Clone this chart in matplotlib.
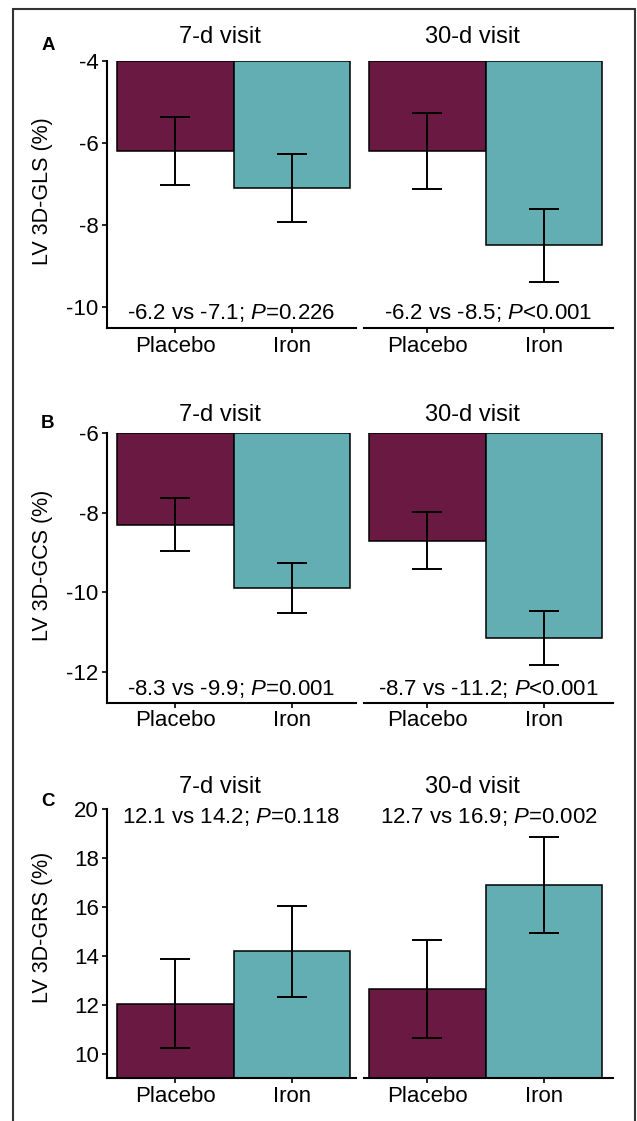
import numpy as np
import matplotlib
matplotlib.use("Agg")
import matplotlib.pyplot as plt
from matplotlib.patches import Rectangle

plt.rcParams['font.family'] = ['Liberation Sans', 'DejaVu Sans']
plt.rcParams['mathtext.fontset'] = 'custom'
plt.rcParams['mathtext.rm'] = 'Liberation Sans'
plt.rcParams['mathtext.it'] = 'Liberation Sans:italic'

# ---- DATOS --------------------------------------------------------
visits = ['7-d visit', '30-d visit']
groups = ['Placebo', 'Iron']
panel_letters = ['A', 'B', 'C']
ylabels = ['LV 3D-GLS (%)', 'LV 3D-GCS (%)', 'LV 3D-GRS (%)']

gls_mean = [[-6.2, -7.1], [-6.2, -8.5]]
gls_err = [[0.83, 0.82], [0.93, 0.90]]
gls_text = ['-6.2 vs -7.1; $P$=0.226', '-6.2 vs -8.5; $P$<0.001']

gcs_mean = [[-8.3, -9.9], [-8.7, -11.15]]
gcs_err = [[0.67, 0.63], [0.71, 0.67]]
gcs_text = ['-8.3 vs -9.9; $P$=0.001', '-8.7 vs -11.2; $P$<0.001']

grs_mean = [[12.05, 14.2], [12.65, 16.9]]
grs_err = [[1.83, 1.86], [1.99, 1.97]]
grs_text = ['12.1 vs 14.2; $P$=0.118', '12.7 vs 16.9; $P$=0.002']

yticks_gls = [-10, -8, -6, -4]
yticks_gcs = [-12, -10, -8, -6]
yticks_grs = [10, 12, 14, 16, 18, 20]

colors = ['#691942', '#63aeb2']

# ---- LAYOUT (pixeles) ---------------------------------------------
W, H = 637, 1121
fig = plt.figure(figsize=(W / 100, H / 100), dpi=100)

panels = [
    # medias, errores, textos, yticks, ylim, base, y texto, top px, bottom px, titulo px, label y px, letra y px
    (gls_mean, gls_err, gls_text, yticks_gls, (-10.52, -4), -4, -10.3, 61, 328.3, 43.3, 191, 46),
    (gcs_mean, gcs_err, gcs_text, yticks_gcs, (-12.78, -6), -6, -12.59, 433.3, 702.7, 420.7, 565, 423),
    (grs_mean, grs_err, grs_text, yticks_grs, (9, 20), 9, 19.45, 809.3, 1078.3, 792.7, 927, 802),
]

col_x = [(106.5, 249.5, (-0.59, 1.55)), (364, 249, (-0.543, 1.594))]
title_x = [220, 472]

for p, (means, errs, texts, yticks, ylim, base, ty, top, bot, tit, lab_y, let_y) in enumerate(panels):
    for j in range(2):
        x0, w, xlim = col_x[j]
        ax = fig.add_axes([x0 / W, 1 - bot / H, w / W, (bot - top) / H])
        x = np.arange(2)
        m = np.array(means[j])
        # barras colgando desde la base (arriba en A y B, abajo en C)
        ax.bar(x, m - base, bottom=base, width=1.0, color=colors,
               edgecolor='black', linewidth=1.1, zorder=2)
        ax.errorbar(x, m, yerr=errs[j], fmt='none', ecolor='black',
                    elinewidth=1.4, capsize=11, capthick=1.4, zorder=3)
        ax.set_xlim(*xlim)
        ax.set_ylim(*ylim)
        ax.set_xticks(x)
        ax.set_xticklabels(groups, fontsize=16)
        ax.set_yticks(yticks)
        ax.set_yticklabels([str(t) for t in yticks], fontsize=16)
        ax.tick_params(length=3.6, width=1.2, pad=2)
        for s in ['top', 'right']:
            ax.spines[s].set_visible(False)
        ax.spines['bottom'].set_linewidth(1.5)
        ax.spines['left'].set_linewidth(1.5)
        if j == 1:
            ax.spines['left'].set_visible(False)
            ax.tick_params(axis='y', left=False, labelleft=False)
        ax.text(np.mean(xlim), ty, texts[j], fontsize=16,
                ha='center', va='baseline')
        fig.text(title_x[j] / W, 1 - tit / H, visits[j], fontsize=17,
                 ha='center', va='baseline')
    fig.text(43 / W, 1 - lab_y / H, ylabels[p], fontsize=15.5, rotation=90,
             ha='center', va='center')
    fig.text(48 / W, 1 - let_y / H, panel_letters[p], fontsize=13.5,
             fontweight='bold', ha='center', va='center')

# marco de la figura
fig.patches.append(Rectangle((13 / W, -0.05), (635 - 13) / W, 1 - 9 / H + 0.05,
                             transform=fig.transFigure, fill=False,
                             linewidth=1.5, edgecolor='#333333'))

fig.savefig('out.png', dpi=100)
